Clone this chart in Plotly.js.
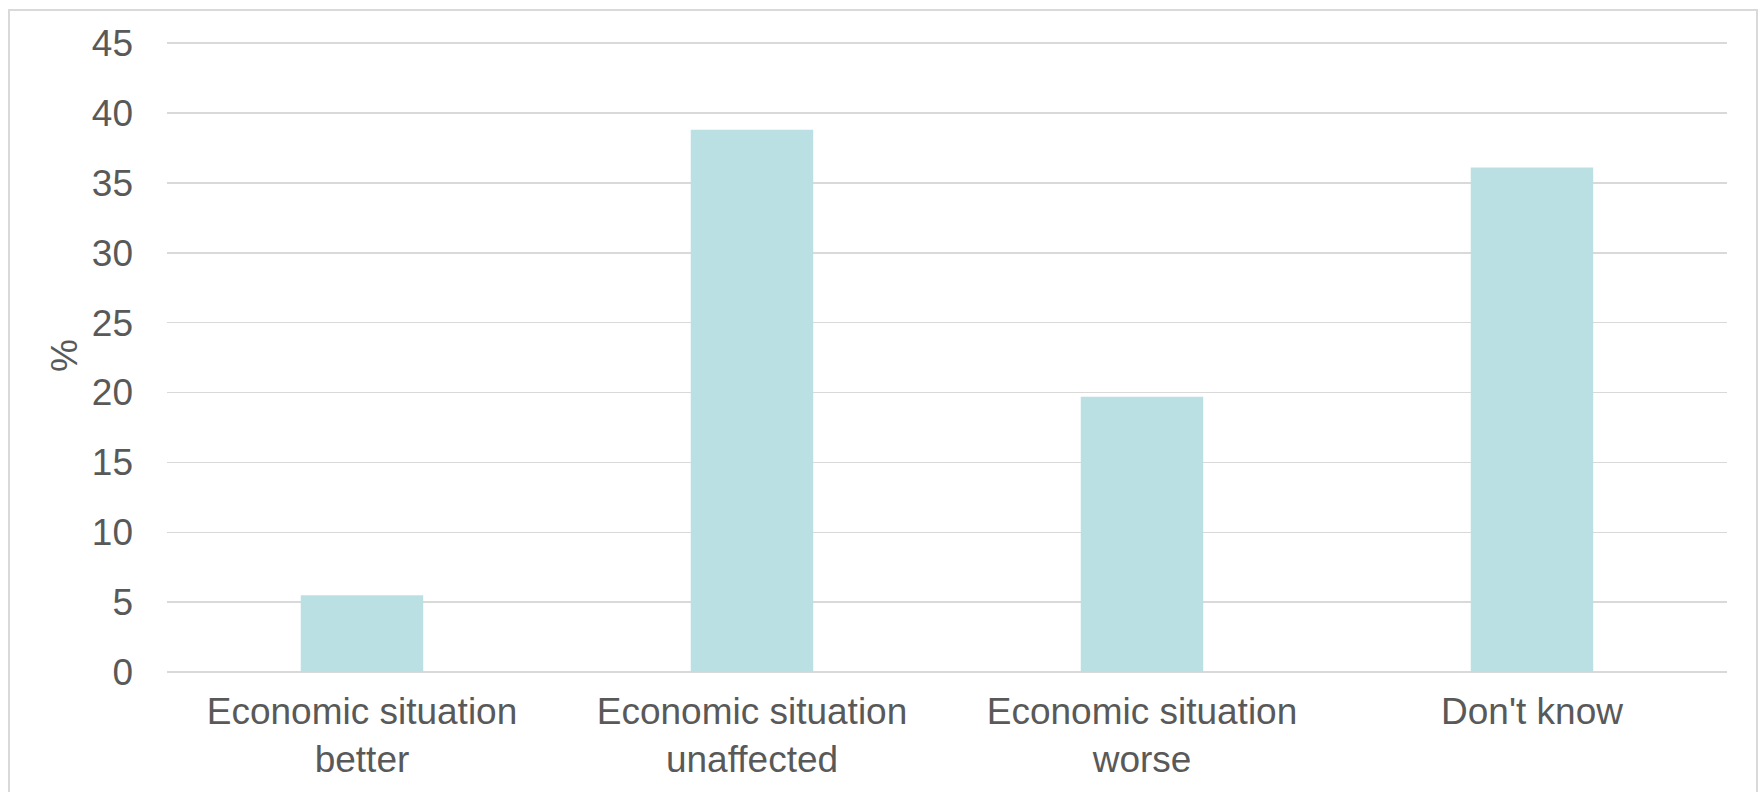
<!DOCTYPE html>
<html>
<head>
<meta charset="utf-8">
<script src="https://cdn.plot.ly/plotly-3.0.1.min.js"></script>
<style>
  html, body { margin: 0; padding: 0; background: #ffffff; }
  #chart { position: absolute; left: 0; top: 0; width: 1760px; height: 792px; }
  #frame {
    position: absolute; left: 8px; top: 9px; width: 1746px; height: 800px;
    border: 2px solid #d9d9d9; pointer-events: none;
  }
</style>
</head>
<body>
<div id="chart"></div>
<div id="frame"></div>
<script>
// Survey answers: how respondents expect their economic situation to change
const categories = [
  'Economic situation<br>better',
  'Economic situation<br>unaffected',
  'Economic situation<br>worse',
  "Don't know"
];
const shares = [5.5, 38.8, 19.7, 36.1];
const yTicks = [0, 5, 10, 15, 20, 25, 30, 35, 40, 45];

const textColor = '#595959';
const gridColor = '#d9d9d9';
const barColor = '#bbe0e3';
const fontFamily = '"Liberation Sans", Arial, sans-serif';
const fontSize = 37;

const trace = {
  type: 'bar',
  x: categories,
  y: shares,
  marker: { color: barColor, line: { width: 0 } },
  hoverinfo: 'x+y'
};

const layout = {
  width: 1760,
  height: 792,
  margin: { l: 167, r: 33, t: 39, b: 120, pad: 0 },
  paper_bgcolor: '#ffffff',
  plot_bgcolor: '#ffffff',
  bargap: 0.686,
  showlegend: false,
  font: { family: fontFamily, size: fontSize, color: textColor },
  xaxis: {
    type: 'category',
    showgrid: false,
    showline: false,
    zeroline: false,
    ticks: '',
    ticklabelstandoff: 14,
    tickfont: { family: fontFamily, size: fontSize, color: textColor }
  },
  yaxis: {
    // a little headroom above 45 so the top gridline is kept
    range: [0, 45.3],
    tickmode: 'array',
    tickvals: yTicks,
    ticktext: yTicks.map(String),
    showgrid: true,
    gridcolor: gridColor,
    gridwidth: 1.5,
    zeroline: true,
    zerolinecolor: gridColor,
    zerolinewidth: 1.5,
    showline: false,
    ticks: '',
    ticklabelstandoff: 33,
    tickfont: { family: fontFamily, size: fontSize, color: textColor },
    title: {
      text: '%',
      standoff: 2,
      font: { family: fontFamily, size: fontSize, color: textColor }
    }
  }
};

Plotly.newPlot('chart', [trace], layout, { displayModeBar: false, staticPlot: true });
</script>
</body>
</html>
